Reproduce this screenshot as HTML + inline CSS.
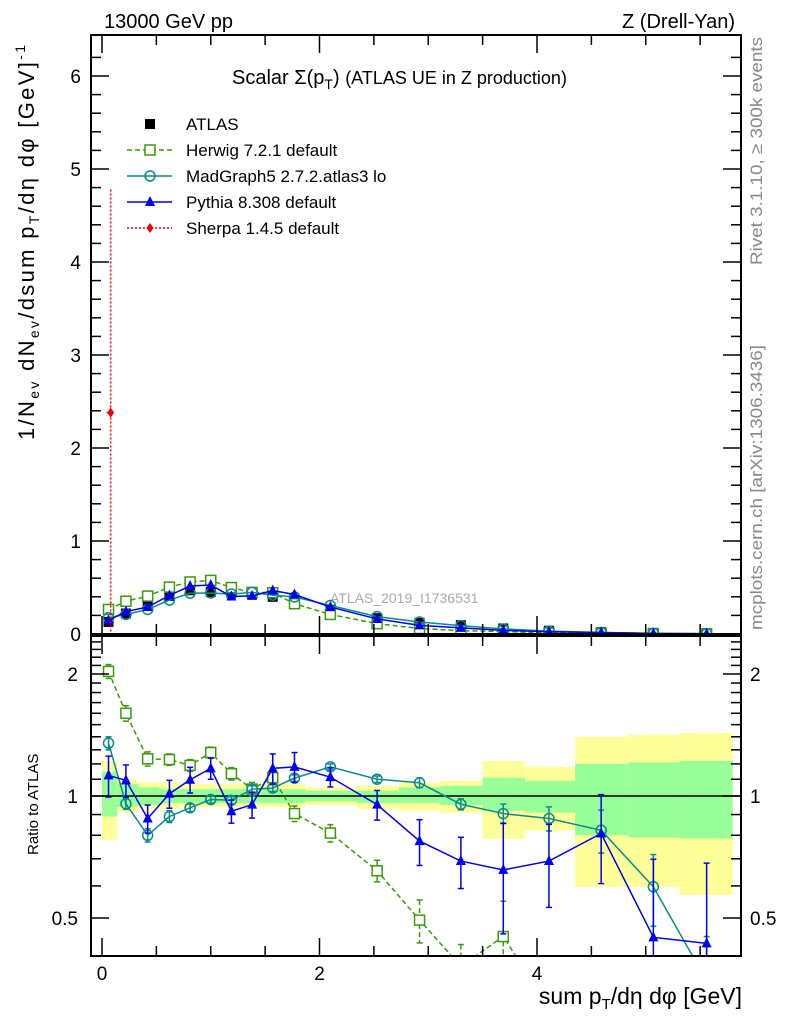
<!DOCTYPE html>
<html><head><meta charset="utf-8"><style>
html,body{margin:0;padding:0;background:#fff;width:786px;height:1024px;overflow:hidden;position:relative;}
svg{position:absolute;left:0;top:0;font-family:"Liberation Sans",sans-serif;}
</style></head><body>
<svg id="c" width="786" height="1024" xmlns="http://www.w3.org/2000/svg">
<rect width="786" height="1024" fill="#fff"/>
<text x="104" y="28" font-size="20">13000 GeV pp</text>
<text x="735" y="28" font-size="20" text-anchor="end">Z (Drell-Yan)</text>
<text x="232" y="84" font-size="20">Scalar Σ(p<tspan font-size="14" dy="5">T</tspan><tspan dy="-5">)  </tspan><tspan font-size="18">(ATLAS UE in Z production)</tspan></text>
<text transform="translate(762,265) rotate(-90)" font-size="17" fill="#888" textLength="228" lengthAdjust="spacingAndGlyphs">Rivet 3.1.10, ≥ 300k events</text>
<text transform="translate(762,630) rotate(-90)" font-size="17" fill="#888" textLength="285" lengthAdjust="spacingAndGlyphs">mcplots.cern.ch [arXiv:1306.3436]</text>
<text transform="translate(34,440) rotate(-90)" font-size="22" textLength="395" lengthAdjust="spacing">1/N<tspan font-size="14" dy="5">ev</tspan><tspan dy="-5"> dN</tspan><tspan font-size="14" dy="5">ev</tspan><tspan dy="-5">/dsum p</tspan><tspan font-size="14" dy="5">T</tspan><tspan dy="-5">/dη dφ  [GeV]</tspan><tspan font-size="14" dy="-9">-1</tspan></text>
<text transform="translate(38,855) rotate(-90)" font-size="15">Ratio to ATLAS</text>
<text x="742" y="1004" font-size="23" text-anchor="end">sum p<tspan font-size="15" dy="5">T</tspan><tspan dy="-5">/dη dφ [GeV]</tspan></text>
<text x="330" y="603" font-size="14" fill="#aaa">ATLAS_2019_I1736531</text>
<g id="legend"></g>
<g id="main"></g>
<g id="ratio"></g>
</svg>
<script>
const xs = [0.06,0.22,0.42,0.62,0.81,1.0,1.19,1.38,1.57,1.77,2.1,2.53,2.92,3.3,3.69,4.11,4.59,5.07,5.56];
const edges = [0,0.14,0.33,0.53,0.72,0.9,1.09,1.29,1.48,1.68,1.87,2.34,2.73,3.11,3.5,3.89,4.35,4.84,5.31,5.8];
const atlas = [0.13,0.22,0.33,0.41,0.47,0.45,0.44,0.43,0.40,0.36,0.26,0.17,0.12,0.095,0.06,0.035,0.02,0.012,0.008];
const herwigR = [2.03,1.60,1.235,1.23,1.19,1.28,1.135,1.04,1.11,0.905,0.81,0.654,0.494,0.38,0.45,0.3,0.25,0.25,0.25];
const herwigE = [0.08,0.07,0.05,0.04,0.04,0.04,0.04,0.04,0.04,0.04,0.04,0.04,0.06,0.05,0.1,0.05,0.05,0.05,0.05];
const madR = [1.35,0.957,0.80,0.89,0.935,0.98,0.976,1.04,1.046,1.107,1.18,1.10,1.078,0.954,0.905,0.88,0.823,0.597,0.35];
const madE = [0.05,0.03,0.03,0.03,0.02,0.02,0.02,0.02,0.02,0.02,0.02,0.02,0.03,0.03,0.05,0.06,0.1,0.12,0.1];
const pyR = [1.124,1.093,0.88,1.013,1.097,1.17,0.917,0.952,1.17,1.18,1.113,0.952,0.774,0.691,0.657,0.691,0.808,0.448,0.433];
const pyE = [0.13,0.1,0.07,0.08,0.08,0.07,0.06,0.07,0.1,0.1,0.06,0.08,0.1,0.1,0.2,0.16,0.2,0.25,0.25];
const yelHi = [1.22,1.10,1.08,1.08,1.07,1.07,1.07,1.07,1.07,1.07,1.05,1.06,1.08,1.09,1.22,1.18,1.40,1.415,1.43];
const yelLo = [0.78,0.91,0.93,0.93,0.94,0.94,0.94,0.94,0.94,0.94,0.95,0.93,0.92,0.91,0.784,0.823,0.597,0.597,0.57];
const grnHi = [1.15,1.07,1.05,1.04,1.04,1.04,1.04,1.04,1.04,1.04,1.03,1.03,1.05,1.06,1.11,1.09,1.20,1.21,1.22];
const grnLo = [0.89,0.94,0.95,0.96,0.96,0.96,0.96,0.96,0.96,0.96,0.97,0.96,0.96,0.95,0.92,0.91,0.80,0.79,0.785];
const sherpaX = [0.08];
const sherpaY = [2.38];
const sherpaErr = [2.4];
const mainTicks = ["0","1","2","3","4","5","6"];
const xTicks = ["0","2","4"];
const ratioTicks = ["0.5","1","2"];

const NS="http://www.w3.org/2000/svg";
const L=91,R=741,MT=35,MB=634,RT=636,RB=956;
const X=v=>102+v*108.75;
const YM=v=>634-v*93;
const YR=v=>796-Math.log2(v)*122;
function el(tag,attrs,parent){const e=document.createElementNS(NS,tag);for(const k in attrs)e.setAttribute(k,attrs[k]);parent.appendChild(e);return e;}
const main=document.getElementById('main'), ratio=document.getElementById('ratio'), leg=document.getElementById('legend');
const svg=document.getElementById('c');
const defs=el('defs',{},svg);
const c1=el('clipPath',{id:'cm'},defs);el('rect',{x:L,y:MT,width:R-L,height:MB-MT},c1);
const c2=el('clipPath',{id:'cr'},defs);el('rect',{x:L,y:RT,width:R-L,height:RB-RT},c2);
const mg=el('g',{'clip-path':'url(#cm)'},main);
const rg=el('g',{'clip-path':'url(#cr)'},ratio);

for(let i=0;i<xs.length;i++){
  const b=el('rect',{x:X(edges[i]),y:YR(yelHi[i]),width:X(edges[i+1])-X(edges[i]),height:YR(yelLo[i])-YR(yelHi[i]),fill:'#ffff99'},rg);
  
  
}
for(let i=0;i<xs.length;i++){
  const b=el('rect',{x:X(edges[i]),y:YR(grnHi[i]),width:X(edges[i+1])-X(edges[i]),height:YR(grnLo[i])-YR(grnHi[i]),fill:'#99ff99'},rg);
  
  
}
el('line',{x1:L,x2:R,y1:YR(1),y2:YR(1),stroke:'#000','stroke-width':1.5},rg);

function marker(type,cx,cy,col,g,s){
  let m;
  if(type==='sq') m=el('rect',{x:cx-s,y:cy-s,width:2*s,height:2*s,fill:'#fff',stroke:col,'stroke-width':1.5},g);
  else if(type==='fsq') m=el('rect',{x:cx-s,y:cy-s,width:2*s,height:2*s,fill:col},g);
  else if(type==='circ') m=el('circle',{cx:cx,cy:cy,r:s,fill:'none',stroke:col,'stroke-width':1.5},g);
  else if(type==='tri') m=el('polygon',{points:`${cx},${cy-s-1} ${cx-s},${cy+s-1} ${cx+s},${cy+s-1}`,fill:col},g);
  else m=el('polygon',{points:`${cx},${cy-s} ${cx-s*0.7},${cy} ${cx},${cy+s} ${cx+s*0.7},${cy}`,fill:col},g);
  return m;
}
function series(name,r,e,col,dash,type){
  const ptsM=xs.map((x,i)=>X(x)+','+YM(atlas[i]*r[i])).join(' ');
  const lm=el('polyline',{points:ptsM,fill:'none',stroke:col,'stroke-width':1.5,'stroke-dasharray':dash},mg);
  
  
  const ptsR=xs.map((x,i)=>X(x)+','+YR(r[i])).join(' ');
  const lr=el('polyline',{points:ptsR,fill:'none',stroke:col,'stroke-width':1.5,'stroke-dasharray':dash},rg);
  
  
  xs.forEach((x,i)=>{
    const cx=X(x);
    const ey1=YR(r[i]+e[i]), ey2=YR(Math.max(r[i]-e[i],0.01));
    el('line',{x1:cx,x2:cx,y1:ey1,y2:ey2,stroke:col,'stroke-width':1.5,'stroke-dasharray':dash},rg);
    el('line',{x1:cx-3,x2:cx+3,y1:ey1,y2:ey1,stroke:col,'stroke-width':1.5},rg);
    el('line',{x1:cx-3,x2:cx+3,y1:ey2,y2:ey2,stroke:col,'stroke-width':1.5},rg);
    const m1=marker(type,cx,YM(atlas[i]*r[i]),col,mg,5);
    
    
    const m2=marker(type,cx,YR(r[i]),col,rg,5);
    
    
  });
}
xs.forEach((x,i)=>{
  const m=marker('fsq',X(x),YM(atlas[i]),'#000',mg,5);
  
  
});
series('herwig',herwigR,herwigE,'#3a9a0a','5,3','sq');
series('madgraph',madR,madE,'#0a8a8a','none','circ');
series('pythia',pyR,pyE,'#0000ee','none','tri');
sherpaX.forEach((x,i)=>{
  const cx=X(x);
  el('line',{x1:cx,x2:cx,y1:YM(sherpaY[i]+sherpaErr[i]),y2:YM(0),stroke:'#e00','stroke-width':1.5,'stroke-dasharray':'2,2'},mg);
  el('line',{x1:cx-4,x2:cx+4,y1:YM(sherpaY[i]),y2:YM(sherpaY[i]),stroke:'#e00','stroke-width':1.5,'stroke-dasharray':'2,2'},mg);
  const m=marker('dia',cx,YM(sherpaY[i]),'#e00',mg,5);
  
  
});

function frame(g,t,b){el('rect',{x:L,y:t,width:R-L,height:b-t,fill:'none',stroke:'#000','stroke-width':2},g);}
frame(main,MT,MB);frame(ratio,RT,RB);
for(let v=0;v<=6.4;v+=0.2){
  const y=YM(v);if(y<MT)break;
  const major=Math.abs(v-Math.round(v))<1e-6;const len=major?18:10;
  el('line',{x1:L,x2:L+len,y1:y,y2:y,stroke:'#000','stroke-width':1.5},main);
  el('line',{x1:R-len,x2:R,y1:y,y2:y,stroke:'#000','stroke-width':1.5},main);
}
mainTicks.forEach(t=>{const tt=el('text',{x:81,y:YM(+t)+7,'font-size':19,'text-anchor':'end'},main);tt.textContent=t;
  
  });
const rv=[0.5,0.6,0.7,0.8,0.9,1,1.1,1.2,1.3,1.4,1.5,1.6,1.7,1.8,1.9,2,2.1,2.2,2.3,2.4];
rv.forEach(v=>{const y=YR(v);const major=(v===0.5||v===1||v===2);const len=major?18:10;
  el('line',{x1:L,x2:L+len,y1:y,y2:y,stroke:'#000','stroke-width':1.5},ratio);
  el('line',{x1:R-len,x2:R,y1:y,y2:y,stroke:'#000','stroke-width':1.5},ratio);});
ratioTicks.forEach(t=>{
  const a=el('text',{x:78,y:YR(+t)+7,'font-size':19,'text-anchor':'end'},ratio);a.textContent=t;
  
  
  const b=el('text',{x:750,y:YR(+t)+7,'font-size':19},ratio);b.textContent=t;
  
  });
for(let v=0;v<=5.8;v+=0.5){const x=X(v);const major=Math.abs(v/2-Math.round(v/2))<1e-6;const len=major?18:10;
  el('line',{x1:x,x2:x,y1:MB,y2:MB-len,stroke:'#000','stroke-width':1.5},main);
  el('line',{x1:x,x2:x,y1:MT,y2:MT+len,stroke:'#000','stroke-width':1.5},main);
  el('line',{x1:x,x2:x,y1:RB,y2:RB-len,stroke:'#000','stroke-width':1.5},ratio);
  el('line',{x1:x,x2:x,y1:RT,y2:RT+len,stroke:'#000','stroke-width':1.5},ratio);}
xTicks.forEach(t=>{const a=el('text',{x:X(+t),y:980,'font-size':19,'text-anchor':'middle'},ratio);a.textContent=t;
  
  });

const items=[['ATLAS','#000','none','fsq'],['Herwig 7.2.1 default','#3a9a0a','5,3','sq'],['MadGraph5 2.7.2.atlas3 lo','#0a8a8a','none','circ'],['Pythia 8.308 default','#0000ee','none','tri'],['Sherpa 1.4.5 default','#e00','2,2','dia']];
items.forEach((it,i)=>{
  const y=124+i*26;
  const g=el('g',{},leg);
  
  
  if(i>0) el('line',{x1:127,x2:172,y1:y,y2:y,stroke:it[1],'stroke-width':1.5,'stroke-dasharray':it[2]},g);
  marker(it[3],150,y,it[1],g,5);
  const t=el('text',{x:186,y:y+6,'font-size':17},g);t.textContent=it[0];
});
</script>
</body></html>
